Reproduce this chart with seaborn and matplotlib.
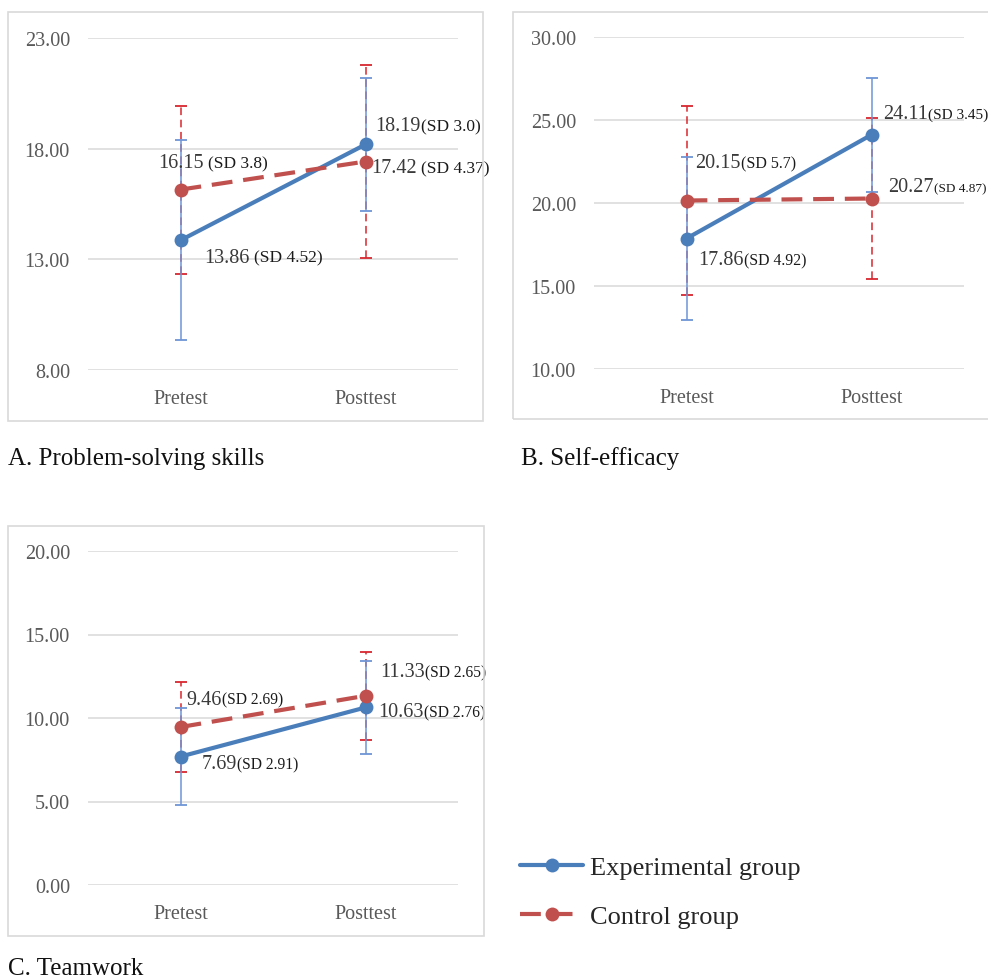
import numpy as np
import pandas as pd
import matplotlib
matplotlib.use("Agg")
import matplotlib.pyplot as plt
import seaborn as sns
from matplotlib.offsetbox import TextArea, HPacker, AnnotationBbox
from matplotlib.patches import Rectangle

# ---------------- data ----------------
times = ["Pretest", "Posttest"]
groups = ["Experimental group", "Control group"]

ps_exp_mean = [13.86, 18.19]
ps_exp_sd = [4.52, 3.0]
ps_ctl_mean = [16.15, 17.42]
ps_ctl_sd = [3.8, 4.37]

se_exp_mean = [17.86, 24.11]
se_exp_sd = [4.92, 3.45]
se_ctl_mean = [20.15, 20.27]
se_ctl_sd = [5.7, 4.87]

tw_exp_mean = [7.69, 10.63]
tw_exp_sd = [2.91, 2.76]
tw_ctl_mean = [9.46, 11.33]
tw_ctl_sd = [2.69, 2.65]

panel_titles = ["A. Problem-solving skills", "B. Self-efficacy", "C. Teamwork"]
panel_yticks = [[8, 13, 18, 23], [10, 15, 20, 25, 30], [0, 5, 10, 15, 20]]

# ---------------- style ----------------
sns.set_theme(style="white")
plt.rcParams["font.family"] = ["Liberation Serif", "DejaVu Serif"]

W, H = 988, 979
fig = plt.figure(figsize=(W / 100, H / 100), dpi=100)

BLUE = "#4a7ebb"
RED = "#c0504d"
BLUE_ERR = "#6f95d6"
RED_ERR = "#d8262e"
GRID = "#d9d9d9"
TICK = "#595959"


def fig_rect(x0, y0, x1, y1):
    return [x0 / W, 1 - y1 / H, (x1 - x0) / W, (y1 - y0) / H]


panels = [
    dict(exp=(ps_exp_mean, ps_exp_sd), ctl=(ps_ctl_mean, ps_ctl_sd),
         ax=(88, 39, 458, 371), box=(8, 13, 483, 422), ylim=(8, 23),
         title_xy=(8, 459),
         # offsets (px) of annotation left-center: exp pre, exp post, ctl pre, ctl post
         offs=[(24, 17), (10, -19), (-22, -27), (6, 6)],
         sdsizes=[12.5, 12.5, 12.5, 12.5], seps=[3, 0, 3, 3]),
    dict(exp=(se_exp_mean, se_exp_sd), ctl=(se_ctl_mean, se_ctl_sd),
         ax=(594, 38, 964, 370), box=(513, 13, 1000, 420), ylim=(10, 30),
         title_xy=(521, 459),
         offs=[(12, 21), (12, -21), (9, -38), (17, -12)],
         sdsizes=[11.3, 11, 11.5, 9.5], seps=[0, 0, 0, 0]),
    dict(exp=(tw_exp_mean, tw_exp_sd), ctl=(tw_ctl_mean, tw_ctl_sd),
         ax=(88, 552, 458, 886), box=(8, 527, 484, 937), ylim=(0, 20),
         title_xy=(8, 969),
         offs=[(21, 7), (13, 4), (6, -28), (15, -24)],
         sdsizes=[11.2, 11.2, 11.2, 11.2], seps=[0, 0, 0, 0]),
]

legend_handles = None
for i, p in enumerate(panels):
    # panel frame
    x0, y0, x1, y1 = p["box"]
    fig.patches.append(Rectangle((x0 / W, 1 - y1 / H), (x1 - x0) / W, (y1 - y0) / H,
                                 transform=fig.transFigure, fill=False,
                                 edgecolor=GRID, linewidth=1.2, zorder=0))
    ax = fig.add_axes(fig_rect(*p["ax"]))
    ax.set_facecolor("none")

    df = pd.DataFrame({
        "time": times * 2,
        "group": [groups[0]] * 2 + [groups[1]] * 2,
        "mean": list(p["exp"][0]) + list(p["ctl"][0]),
        "sd": list(p["exp"][1]) + list(p["ctl"][1]),
    })

    # error bars
    for g, col, ls in [(groups[1], RED_ERR, (0, (5, 3))), (groups[0], BLUE_ERR, "-")]:
        sub = df[df["group"] == g]
        eb = ax.errorbar(sub["time"], sub["mean"], yerr=sub["sd"], fmt="none",
                         ecolor=col, elinewidth=1.1, capsize=4, capthick=1.3, zorder=2)
        eb[2][0].set_linestyle(ls)

    sns.lineplot(data=df, x="time", y="mean", hue="group", style="group",
                 hue_order=groups, style_order=groups,
                 palette={groups[0]: BLUE, groups[1]: RED},
                 markers={groups[0]: "o", groups[1]: "o"},
                 dashes={groups[0]: "", groups[1]: (5, 2.6)},
                 linewidth=3.0, markersize=10, markeredgewidth=0,
                 sort=False, ax=ax, legend=(i == 2), zorder=3)

    if i == 2:
        legend_handles = ax.get_legend_handles_labels()
        ax.get_legend().remove()

    ax.set_xlim(-0.5, 1.5)
    ax.set_ylim(*p["ylim"])
    ax.set_yticks(panel_yticks[i])
    ax.set_yticklabels([f"{t:.2f}" for t in panel_yticks[i]])
    ax.set_xlabel("")
    ax.set_ylabel("")
    ax.grid(axis="y", color=GRID, linewidth=1.1)
    ax.grid(axis="x", visible=False)
    for s in ax.spines.values():
        s.set_visible(False)
    ax.tick_params(axis="y", length=0, pad=13, labelsize=14.5, labelcolor=TICK)
    ax.tick_params(axis="x", length=0, pad=14, labelsize=14.5, labelcolor=TICK)
    for lbl in ax.get_yticklabels():
        lbl.set_clip_on(False)

    # annotations
    pts = []
    for g in (0, 1):
        means, sds = p["exp"] if g == 0 else p["ctl"]
        for t in (0, 1):
            pts.append((t, means[t], sds[t]))
    for k, (t, m, sd) in enumerate(pts):
        dx, dy = p["offs"][k]
        num = TextArea(f"{m:.2f}", textprops=dict(size=14.5, color="#3a3a3a"))
        sdt = TextArea(f"(SD {sd})", textprops=dict(size=p["sdsizes"][k], color="#1a1a1a"))
        box = HPacker(children=[num, sdt], align="baseline", pad=0, sep=p["seps"][k])
        ab = AnnotationBbox(box, (t, m), xybox=(dx * 0.72, -dy * 0.72),
                            xycoords="data", boxcoords="offset points",
                            box_alignment=(0, 0.5), frameon=False, pad=0,
                            annotation_clip=False, zorder=5)
        ax.add_artist(ab)

    tx, ty = p["title_xy"]
    fig.text(tx / W, 1 - ty / H, panel_titles[i], ha="left", va="center",
             fontsize=18, color="#111111")

handles, labels = legend_handles
fig.legend(handles, labels, loc="upper left",
           bbox_to_anchor=(520 / W, 1 - 857 / H), frameon=False,
           fontsize=19, handlelength=2.4, handletextpad=0.25,
           labelspacing=0.95, borderpad=0, borderaxespad=0)

fig.savefig("out.png", dpi=100)
